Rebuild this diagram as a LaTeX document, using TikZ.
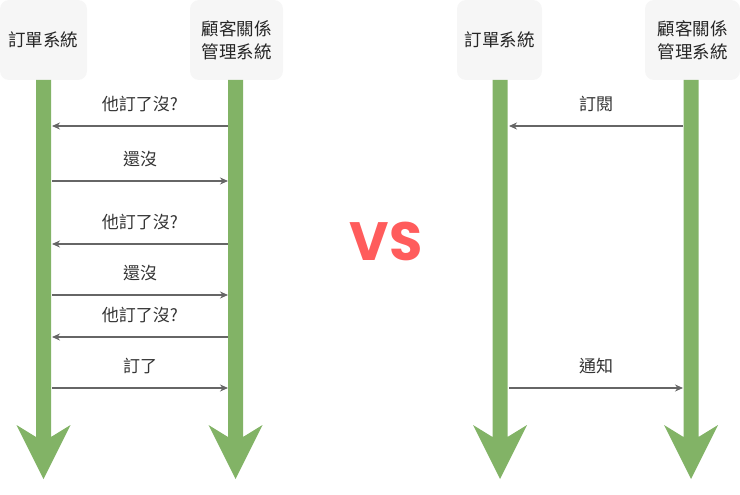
\documentclass[tikz,border=0pt]{standalone}
\usepackage{fontspec}
\setmainfont{Noto Sans CJK TC}
\newfontfamily\vsfont{Poppins}
\usetikzlibrary{arrows.meta}
\definecolor{barg}{HTML}{82B366}
\definecolor{boxg}{HTML}{F6F6F6}
\definecolor{linegray}{HTML}{666666}
\definecolor{vsred}{HTML}{FF5C5C}
\begin{document}
\begin{tikzpicture}[x=1pt,y=-1pt,
  sysbox/.style={fill=boxg,rounded corners=9pt,align=center,font=\fontsize{17.5}{23}\selectfont,inner sep=0pt,text=black!85},
  msg/.style={draw=linegray,line width=1.1pt,-{Stealth[length=8pt,width=7pt]}},
  lbl/.style={font=\fontsize{17}{20}\selectfont,text=black!80,yshift=22pt}]
\useasboundingbox (0,0) rectangle (740,495);
% boxes
\node[sysbox,minimum width=87pt,minimum height=80pt] (A) at (43.5,40) {訂單系統};
\node[sysbox,minimum width=93pt,minimum height=80pt] (B) at (236.5,40) {顧客關係\\管理系統};
\node[sysbox,minimum width=85pt,minimum height=80pt] (C) at (499.5,40) {訂單系統};
\node[sysbox,minimum width=95pt,minimum height=80pt] (D) at (692.5,40) {顧客關係\\管理系統};
% green lifeline arrows
\foreach \cx in {43.5,235.5,500,691}{
  \fill[barg] (\cx-7.5,80) -- (\cx+7.5,80) -- (\cx+7.5,437) -- (\cx+27,425) -- (\cx,479)
    -- (\cx-27,425) -- (\cx-7.5,437) -- cycle;
}
% left messages
\foreach \n/\y in {1/126,2/181,3/244,4/295,5/337,6/388}{
  \coordinate (L\n) at (52,\y);
  \coordinate (R\n) at (228,\y);
}
\draw[msg] (R1) -- node[lbl] (t1) {他訂了沒?} (L1);
\draw[msg] (L2) -- node[lbl] (t2) {還沒} (R2);
\draw[msg] (R3) -- node[lbl] (t3) {他訂了沒?} (L3);
\draw[msg] (L4) -- node[lbl] (t4) {還沒} (R4);
\draw[msg] (R5) -- node[lbl] (t5) {他訂了沒?} (L5);
\draw[msg] (L6) -- node[lbl] (t6) {訂了} (R6);
% right messages
\coordinate (P1) at (683,126);
\coordinate (Q1) at (509,126);
\coordinate (P2) at (683,388);
\coordinate (Q2) at (509,388);
\draw[msg] (P1) -- node[lbl] (u1) {訂閱} (Q1);
\draw[msg] (Q2) -- node[lbl] (u2) {通知} (P2);
% VS
\node[text=vsred,font=\vsfont\bfseries\fontsize{54}{60}\selectfont] (vs) at (386,241) {VS};
\end{tikzpicture}
\end{document}
